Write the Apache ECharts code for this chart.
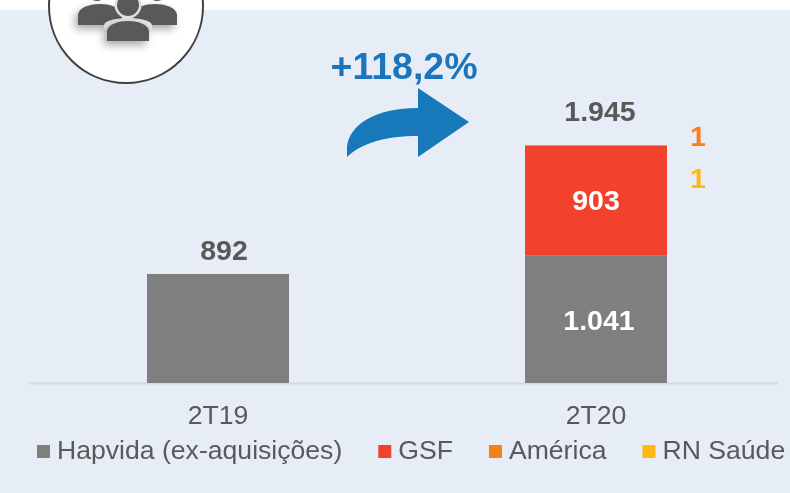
<!DOCTYPE html>
<html><head><meta charset="utf-8">
<style>html,body{margin:0;padding:0;background:#fff}#c{width:790px;height:493px}</style>
<script src="https://cdn.jsdelivr.net/npm/echarts@6/dist/echarts.min.js"></script></head>
<body><div id="c"></div>
<script>
const categories = ['2T19','2T20'];
const hapvida = [892,1041];
const gsf = [null,903];
const america = [null,1];
const rnSaude = [null,1];
const totals = [892,1945];
const growthLabel = '+118,2%';
const fmt = v => String(v).replace(/\B(?=(\d{3})+$)/g,'.');
const font = 'Liberation Sans';
echarts.graphic.registerShape('dome', echarts.graphic.extendShape({
  shape:{x:0,y:0,w:10,h:10},
  buildPath(ctx,s){
    ctx.moveTo(s.x,s.y+s.h);
    ctx.lineTo(s.x,s.y+s.h*0.5);
    ctx.bezierCurveTo(s.x+s.w*0.02,s.y+s.h*0.15,s.x+s.w*0.28,s.y,s.x+s.w*0.5,s.y);
    ctx.bezierCurveTo(s.x+s.w*0.72,s.y,s.x+s.w*0.98,s.y+s.h*0.15,s.x+s.w,s.y+s.h*0.5);
    ctx.lineTo(s.x+s.w,s.y+s.h);
    ctx.closePath();
  }
}));
echarts.graphic.registerShape('curvedArrow', echarts.graphic.extendShape({
  shape:{},
  buildPath(ctx){
    ctx.moveTo(347,157);
    ctx.lineTo(347,147);
    ctx.bezierCurveTo(349,125,375,108,418,108);
    ctx.lineTo(418,88);ctx.lineTo(469,122);ctx.lineTo(418,157);ctx.lineTo(418,136);
    ctx.bezierCurveTo(385,136,362,143,347,157);
    ctx.closePath();
  }
}));
const shadow = {shadowColor:'rgba(0,0,0,0.35)',shadowBlur:8,shadowOffsetX:-3,shadowOffsetY:4};
const iconFill = '#595959';
const boldLabel = {show:true,fontSize:28.5,fontWeight:'bold',fontFamily:font};
const chart = echarts.init(document.getElementById('c'),null,{renderer:'canvas'});
chart.setOption({
  animation:false,
  backgroundColor:'#fff',
  textStyle:{fontFamily:font},
  grid:{left:29,right:5,top:16.4,height:366.6},
  xAxis:{type:'category',data:categories,axisTick:{show:false},
    axisLine:{show:false},
    axisLabel:{color:'#595959',fontSize:26.6,margin:20,fontFamily:font}},
  yAxis:{type:'value',min:0,max:3000,show:false,splitLine:{show:false}},
  legend:{left:37,top:438,width:752,padding:0,itemWidth:13,itemHeight:13,itemGap:36,icon:'rect',
    data:['Hapvida (ex-aquisições)','GSF','América','RN Saúde'],
    textStyle:{color:'#595959',fontSize:26.6,fontFamily:font,padding:[0,0,0,2]}},
  series:[
    {name:'Hapvida (ex-aquisições)',type:'bar',stack:'t',data:hapvida,barWidth:142,itemStyle:{color:'#7f7f7f'},
      label:{...boldLabel,position:'inside',offset:[3,2.5],color:'#fff',
        formatter:p=>p.dataIndex===0?'':fmt(p.value)}},
    {name:'GSF',type:'bar',stack:'t',data:gsf,barWidth:142,itemStyle:{color:'#f2412d'},
      label:{...boldLabel,position:'inside',offset:[0,2],color:'#fff'}},
    {name:'América',type:'bar',stack:'t',data:america,barWidth:142,itemStyle:{color:'#f98019'},
      label:{...boldLabel,position:'right',offset:[18,-7],color:'#f98019'}},
    {name:'RN Saúde',type:'bar',stack:'t',data:rnSaude,barWidth:142,itemStyle:{color:'#ffb80f'},
      label:{...boldLabel,position:'right',offset:[18,35],color:'#ffb80f'}},
    {name:'Total',type:'line',data:totals,symbol:'circle',symbolSize:1,itemStyle:{color:'rgba(0,0,0,0)'},lineStyle:{width:0},silent:true,
      label:{...boldLabel,position:'top',color:'#595959',formatter:p=>fmt(p.value)},
      labelLayout:p=>(p.dataIndex===0?{dx:6,dy:-2}:{dx:4,dy:-12})}
  ],
  graphic:[
    {type:'rect',z:-10,silent:true,shape:{x:0,y:10,width:790,height:483},style:{fill:'#e7edf7'}},
    {type:'line',z:1,silent:true,shape:{x1:29,y1:383.5,x2:778,y2:383.5},style:{stroke:'#d8d8dc',lineWidth:2}},
    {type:'circle',silent:true,z:2,shape:{cx:126,cy:6,r:77},style:{fill:'#fff',stroke:'#404040',lineWidth:2}},
    {type:'circle',silent:true,z:3,shape:{cx:97,cy:-9,r:10},style:{fill:iconFill}},
    {type:'circle',silent:true,z:3,shape:{cx:157,cy:-9,r:10},style:{fill:iconFill}},
    {type:'dome',silent:true,z:3,shape:{x:78,y:4,w:44,h:21},style:{fill:iconFill,...shadow}},
    {type:'dome',silent:true,z:3,shape:{x:133,y:4,w:44,h:21},style:{fill:iconFill,...shadow}},
    {type:'circle',silent:true,z:4,shape:{cx:128,cy:5,r:13.5},style:{fill:'#e2e2e2'}},
    {type:'circle',silent:true,z:4,shape:{cx:128,cy:5,r:11},style:{fill:iconFill}},
    {type:'dome',silent:true,z:4,shape:{x:104,y:18,w:48,h:14},style:{fill:'#e2e2e2'}},
    {type:'dome',silent:true,z:4,shape:{x:107,y:21,w:42,h:20},style:{fill:iconFill,...shadow}},
    {type:'curvedArrow',silent:true,z:2,style:{fill:'#1779ba'}},
    {type:'text',silent:true,z:2,style:{x:404,y:69,text:growthLabel,fill:'#1c75bc',font:'bold 37.5px "Liberation Sans"',align:'center',verticalAlign:'middle'}}
  ]
});
</script></body></html>
